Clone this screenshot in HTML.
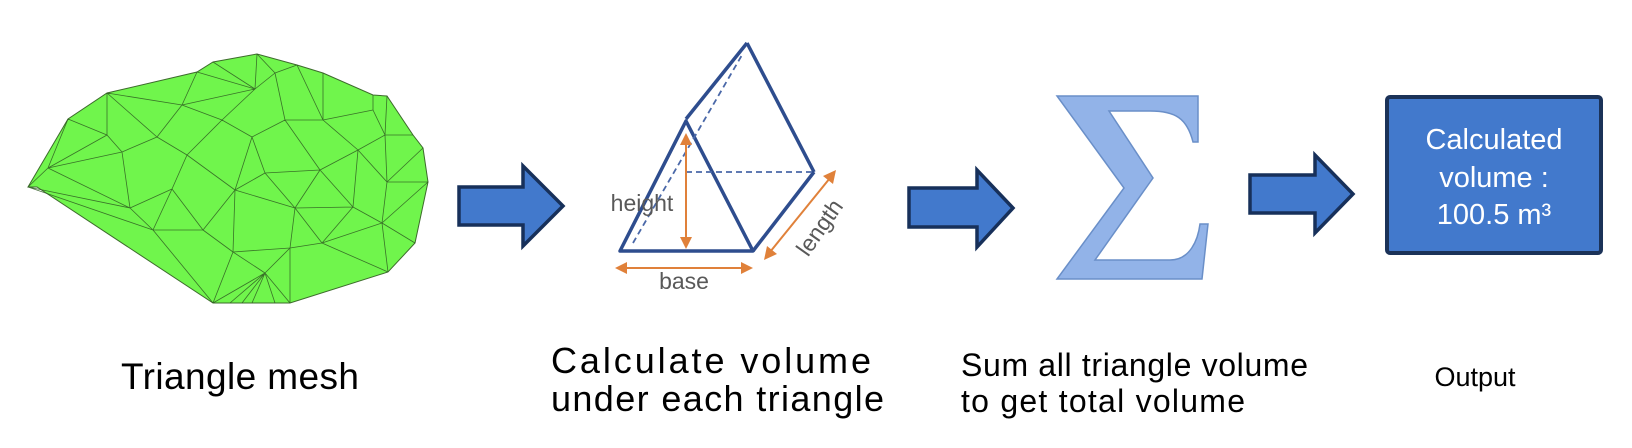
<!DOCTYPE html>
<html><head><meta charset="utf-8"><style>
html,body{margin:0;padding:0;background:#fff;width:1632px;height:448px;overflow:hidden}
svg{display:block}
</style></head><body>
<svg width="1632" height="448" viewBox="0 0 1632 448" xmlns="http://www.w3.org/2000/svg" font-family="'Liberation Sans', 'DejaVu Sans', sans-serif">
<!-- mesh -->
<polygon points="28,187 68,119 107,93 197,72 213,62 257,54 297,65 323,73 373,95 387,96 413,135 423,148 428,182 415,243 388,272 290,303 213,303 37,187" fill="#70f54c" stroke="#3d6b2c" stroke-width="1"/>
<path fill="none" stroke="#2f5a22" stroke-width="0.8" stroke-opacity="0.85" d="
M28,187L48,168 M48,168L68,119 M48,168L107,135 M107,135L68,119 M107,135L107,93 M107,135L122,152 M122,152L157,137 M157,137L182,105 M182,105L197,72 M182,105L107,93 M182,105L255,89 M255,89L213,62 M255,89L257,54 M255,89L275,73 M275,73L297,65 M275,73L285,120 M255,89L222,120 M222,120L182,105 M222,120L187,155 M187,155L157,137 M187,155L172,189 M172,189L130,208 M130,208L122,152 M130,208L48,168 M48,168L122,152 M130,208L153,230 M153,230L172,189 M172,189L203,230 M203,230L235,190 M235,190L187,155 M235,190L252,137 M252,137L222,120 M252,137L285,120 M285,120L323,120 M323,120L323,73 M323,120L373,110 M373,110L373,95 M373,110L385,135 M385,135L387,96 M385,135L413,135 M385,135L358,150 M358,150L323,120 M358,150L320,170 M320,170L285,120 M320,170L265,173 M265,173L252,137 M265,173L235,190 M265,173L295,208 M295,208L320,170 M295,208L235,190 M235,190L233,252 M233,252L203,230 M203,230L153,230 M153,230L213,303 M233,252L213,303 M233,252L265,273 M265,273L213,303 M265,273L290,248 M290,248L233,252 M290,248L295,208 M290,248L290,303 M265,273L290,303 M295,208L353,207 M353,207L320,170 M353,207L358,150 M353,207L382,223 M382,223L387,182 M387,182L358,150 M387,182L428,182 M387,182L385,135 M387,182L423,148 M382,223L428,182 M382,223L415,243 M382,223L388,272 M382,223L322,243 M322,243L353,207 M322,243L290,248 M322,243L388,272 M322,243L295,208 M257,54L275,73 M285,120L275,73 M323,120L297,65 M153,230L28,187 M130,208L28,187 M172,189L187,155 M265,273L230,303 M265,273L242,303 M265,273L252,303 M265,273L275,303 M107,93L157,137 M197,72L255,89"/>
<!-- arrows -->
<g fill="#4279cc" stroke="#17305a" stroke-width="3.5" stroke-linejoin="miter">
<polygon points="459,187 523,187 523,166 563,206 523,246 523,225 459,225"/>
<polygon points="909,188 977,188 977,170 1013,208 977,247 977,227 909,227"/>
<polygon points="1250,175 1315,175 1315,155 1353,194 1315,233 1315,213 1250,213"/>
</g>
<!-- prism -->
<g fill="none" stroke="#2e4d8e" stroke-width="3.5" stroke-linejoin="round">
<polygon points="620,251 686,121 753,251"/>
<line x1="686" y1="119" x2="747" y2="43"/>
<line x1="747" y1="43" x2="814" y2="172"/>
<line x1="814" y1="172" x2="753" y2="251"/>
</g>
<g fill="none" stroke="#4a68a8" stroke-width="1.8" stroke-dasharray="6,4">
<line x1="633" y1="243" x2="742" y2="55"/>
<line x1="686" y1="172" x2="814" y2="172"/>
</g>
<g stroke="#e0813a" stroke-width="2" fill="#e0813a">
<line x1="686" y1="142" x2="686" y2="240"/>
<polygon points="686,133 680,145 692,145" stroke="none"/>
<polygon points="686,249 680,237 692,237" stroke="none"/>
<line x1="624" y1="268" x2="744" y2="268"/>
<polygon points="615,268 627,262 627,274" stroke="none"/>
<polygon points="753,268 741,262 741,274" stroke="none"/>
<line x1="770" y1="252" x2="830" y2="178"/>
<polygon points="764,260 767,246 777,254" stroke="none"/>
<polygon points="836,170 833,184 823,176" stroke="none"/>
</g>
<text x="642" y="211" font-size="23" fill="#595959" text-anchor="middle">height</text>
<text x="684" y="289" font-size="23" fill="#595959" text-anchor="middle">base</text>
<text x="0" y="0" font-size="23" fill="#595959" text-anchor="middle" transform="translate(826,232) rotate(-55)">length</text>
<!-- sigma -->
<path d="M1057,96 L1198,96 L1198,142 L1193,142 C1187,118 1175,111 1150,111 L1109,111 L1153,178 L1095,260 L1170,260 C1190,260 1198,240 1200,224 L1208,224 L1202,279 L1057,279 L1124,188 Z" fill="#92b3e8" stroke="#6a8fc8" stroke-width="1.5"/>
<!-- output box -->
<rect x="1387" y="97" width="214" height="156" rx="3" fill="#4279cc" stroke="#1b3258" stroke-width="4"/>
<g fill="#fff" font-size="29" text-anchor="middle">
<text x="1494" y="149">Calculated</text>
<text x="1494" y="187">volume :</text>
<text x="1494" y="224">100.5 m³</text>
</g>
<!-- labels -->
<g fill="#000">
<text x="121" y="389" font-size="37" textLength="238" lengthAdjust="spacing">Triangle mesh</text>
<text x="551" y="373" font-size="36" textLength="320" lengthAdjust="spacing">Calculate volume</text>
<text x="551" y="411" font-size="36" textLength="333" lengthAdjust="spacing">under each triangle</text>
<text x="961" y="376" font-size="32" textLength="347" lengthAdjust="spacing">Sum all triangle volume</text>
<text x="961" y="412" font-size="32" textLength="284" lengthAdjust="spacing">to get total volume</text>
<text x="1475" y="386" font-size="27" text-anchor="middle">Output</text>
</g>
</svg>
</body></html>
